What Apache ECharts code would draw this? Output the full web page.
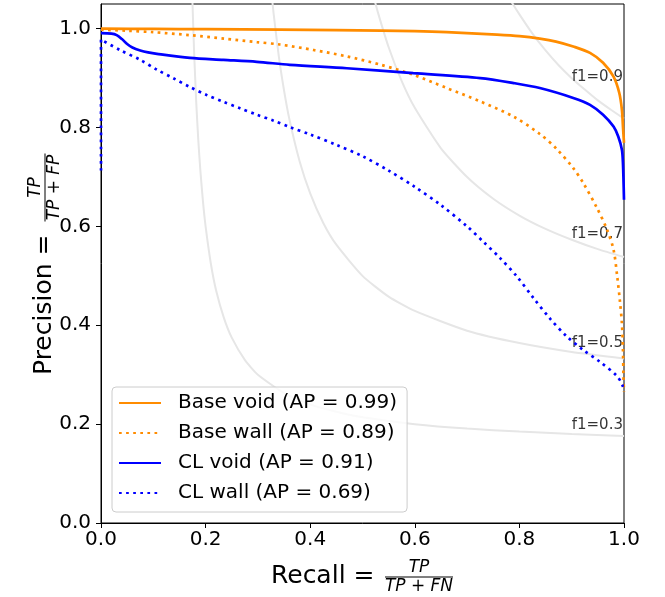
<!DOCTYPE html>
<html>
<head>
<meta charset="utf-8">
<script src="https://cdn.jsdelivr.net/npm/echarts@6/dist/echarts.min.js"></script>
<style>
  html, body { margin: 0; padding: 0; background: #fff; }
  #chart { width: 665px; height: 597px; }
</style>
</head>
<body>
<div id="chart"></div>
<script>
// tick labels
const xTicks = [0, 0.2, 0.4, 0.6, 0.8, 1.0]
const yTicks = [0, 0.2, 0.4, 0.6, 0.8, 1.0]

// series names (legend)
const seriesNames = ['Base void (AP = 0.99)', 'Base wall (AP = 0.89)', 'CL void (AP = 0.91)', 'CL wall (AP = 0.69)']

// precision / recall curves, [recall, precision]
const baseVoid = [[0, 1.0], [0.1, 0.9995], [0.2, 0.999], [0.342, 0.998], [0.45, 0.997], [0.535, 0.996], [0.6, 0.995],
  [0.661, 0.993], [0.757, 0.988], [0.8, 0.985], [0.839, 0.980], [0.87, 0.974], [0.903, 0.964], [0.935, 0.951],
  [0.960, 0.931], [0.980, 0.903], [0.991, 0.870], [0.996, 0.836], [0.998, 0.802], [1.0, 0.769]]
const baseWall = [[0, 0.998], [0.05, 0.996], [0.1, 0.993], [0.17, 0.987], [0.235, 0.980], [0.298, 0.973], [0.342, 0.968],
  [0.406, 0.957], [0.470, 0.944], [0.535, 0.927], [0.597, 0.907], [0.661, 0.880], [0.725, 0.853], [0.789, 0.822],
  [0.839, 0.787], [0.871, 0.757], [0.903, 0.718], [0.922, 0.688], [0.948, 0.638], [0.967, 0.595], [0.980, 0.553],
  [0.987, 0.499], [0.992, 0.451], [0.996, 0.404], [0.998, 0.350], [0.999, 0.296], [1.0, 0.265]]
const clVoid = [[0, 0.991], [0.02, 0.990], [0.03, 0.987], [0.04, 0.979], [0.05, 0.969], [0.06, 0.962], [0.075, 0.956],
  [0.09, 0.952], [0.107, 0.949], [0.17, 0.941], [0.234, 0.937], [0.298, 0.933], [0.361, 0.927], [0.470, 0.920],
  [0.597, 0.910], [0.725, 0.900], [0.789, 0.890], [0.839, 0.880], [0.903, 0.860], [0.935, 0.846], [0.960, 0.826],
  [0.980, 0.802], [0.989, 0.782], [0.996, 0.755], [0.998, 0.728], [1.0, 0.654]]
const clWall = [[0, 0.713], [0, 0.978], [0.036, 0.957], [0.075, 0.937], [0.107, 0.917], [0.138, 0.900], [0.170, 0.882],
  [0.202, 0.866], [0.234, 0.852], [0.266, 0.839], [0.298, 0.826], [0.330, 0.814], [0.361, 0.801], [0.4, 0.786],
  [0.45, 0.765], [0.5, 0.742], [0.55, 0.713], [0.6, 0.680], [0.65, 0.643], [0.7, 0.600], [0.731, 0.569],
  [0.763, 0.536], [0.795, 0.499], [0.827, 0.455], [0.859, 0.413], [0.890, 0.378], [0.922, 0.350], [0.954, 0.326],
  [0.986, 0.298], [0.997, 0.279], [1.0, 0.266]]

// iso-f1 curves, [recall, precision]
const iso03 = [[0.172, 1.17], [0.175, 1.05], [0.178, 0.954], [0.182, 0.853], [0.186, 0.775], [0.19, 0.713], [0.195, 0.65],
  [0.2, 0.6], [0.21, 0.525], [0.22, 0.471], [0.235, 0.415], [0.25, 0.375], [0.275, 0.33], [0.3, 0.3], [0.35, 0.263],
  [0.4, 0.24], [0.45, 0.225], [0.5, 0.214], [0.6, 0.2], [0.7, 0.191], [0.8, 0.185], [0.9, 0.18], [1.0, 0.176]]
const iso05 = [[0.325, 1.083], [0.33, 1.031], [0.34, 0.944], [0.35, 0.875], [0.36, 0.818], [0.38, 0.731], [0.4, 0.667],
  [0.425, 0.607], [0.45, 0.563], [0.5, 0.5], [0.55, 0.458], [0.6, 0.429], [0.7, 0.389], [0.8, 0.364], [0.9, 0.346],
  [1.0, 0.333]]
const iso07 = [[0.52, 1.07], [0.53, 1.031], [0.55, 0.9625], [0.575, 0.894], [0.6, 0.84], [0.65, 0.758], [0.7, 0.7],
  [0.75, 0.656], [0.8, 0.622], [0.85, 0.595], [0.9, 0.573], [0.95, 0.554], [1.0, 0.538]]
const iso09 = [[0.785, 1.054], [0.8, 1.029], [0.825, 0.99], [0.85, 0.956], [0.875, 0.926], [0.9, 0.9], [0.925, 0.877],
  [0.95, 0.855], [0.975, 0.836], [1.0, 0.818]]

const f1LabelText = ['f1=0.3', 'f1=0.5', 'f1=0.7', 'f1=0.9']
const f1LabelPos = [[0.9, 0.199], [0.9, 0.364], [0.9, 0.585], [0.9, 0.902]]

const FONT = 'DejaVu Sans'
const ORANGE = '#ff8c00'
const BLUE = '#0000ff'
const DOTS = [2.7, 4.4]

let chart = echarts.init(document.getElementById('chart'))

function isoSeries (data) {
  return {
    type: 'line', data: data, symbol: 'none', smooth: 0.2, silent: true, z: 1,
    lineStyle: { color: '#e6e6e6', width: 2 }
  }
}
function prSeries (name, data, color, dotted) {
  return {
    name: name, type: 'line', data: data, symbol: 'none', smooth: 0.3, z: 3,
    lineStyle: { color: color, width: 2.7, type: dotted ? DOTS : 'solid', cap: 'butt' },
    itemStyle: { color: color }
  }
}

// axis title pieces (fraction drawn by hand)
function titleParts (word, fracNum, fracDen, fracCenter) {
  return [
    { type: 'text', x: -2, y: -8.6, style: { text: word, font: '25px "' + FONT + '"', fill: '#000', align: 'left', verticalAlign: 'middle' } },
    { type: 'text', x: fracCenter, y: -17, style: { text: fracNum, font: 'italic 17px "' + FONT + '"', fill: '#000', align: 'center', verticalAlign: 'middle' } },
    { type: 'line', shape: { x1: fracCenter - 34, y1: -8, x2: fracCenter + 34, y2: -8 }, style: { stroke: '#000', lineWidth: 1 } },
    { type: 'text', x: fracCenter, y: 1.5, style: { text: fracDen, font: 'italic 17px "' + FONT + '"', fill: '#000', align: 'center', verticalAlign: 'middle' } }
  ]
}

chart.setOption({
  animation: false,
  grid: { left: 101, right: 41, top: 4, bottom: 74, show: true, borderColor: '#000', borderWidth: 1 },
  xAxis: {
    type: 'value', min: 0, max: 1, interval: 0.2,
    axisLine: { lineStyle: { color: '#000', width: 1 } },
    axisTick: { show: true, length: 5, lineStyle: { color: '#000' }, customValues: xTicks },
    axisLabel: { color: '#000', fontSize: 20, fontFamily: FONT, margin: 7, customValues: xTicks, formatter: v => v.toFixed(1) },
    splitLine: { show: false }
  },
  yAxis: {
    type: 'value', min: 0, max: 1.05,
    axisLine: { show: true, lineStyle: { color: '#000', width: 1 } },
    axisTick: { show: true, length: 5, lineStyle: { color: '#000' }, customValues: yTicks },
    axisLabel: { color: '#000', fontSize: 20, fontFamily: FONT, margin: 10, customValues: yTicks, formatter: v => v.toFixed(1) },
    splitLine: { show: false }
  },
  legend: {
    orient: 'vertical', left: 112, top: 387,
    data: seriesNames,
    selectedMode: false,
    itemWidth: 42, itemHeight: 14, itemGap: 8,
    padding: [5, 10, 8, 6],
    backgroundColor: 'rgba(255,255,255,0.8)',
    borderColor: '#cccccc', borderWidth: 1, borderRadius: 4,
    itemStyle: { color: 'rgba(0,0,0,0)', borderWidth: 0, opacity: 0 },
    textStyle: { color: '#000', fontSize: 20, fontFamily: FONT, lineHeight: 22, padding: [0, 0, 0, 12] }
  },
  series: [
    isoSeries(iso03), isoSeries(iso05), isoSeries(iso07), isoSeries(iso09),
    {
      type: 'scatter', symbolSize: 0, silent: true, z: 2,
      data: f1LabelPos.map((p, i) => ({ name: f1LabelText[i], value: p })),
      label: {
        show: true, position: [0, 0], align: 'left', verticalAlign: 'middle',
        formatter: p => p.name, color: '#000', fontSize: 15, fontFamily: FONT
      }
    },
    prSeries(seriesNames[0], baseVoid, ORANGE, false),
    prSeries(seriesNames[1], baseWall, ORANGE, true),
    prSeries(seriesNames[2], clVoid, BLUE, false),
    prSeries(seriesNames[3], clWall, BLUE, true)
  ],
  graphic: [
    { type: 'group', x: 273, y: 585, children: titleParts('Recall =', 'TP', 'TP + FN', 146) },
    { type: 'group', x: 53, y: 373, rotation: Math.PI / 2, children: titleParts('Precision =', 'TP', 'TP + FP', 185.5) }
  ]
})
</script>
</body>
</html>
